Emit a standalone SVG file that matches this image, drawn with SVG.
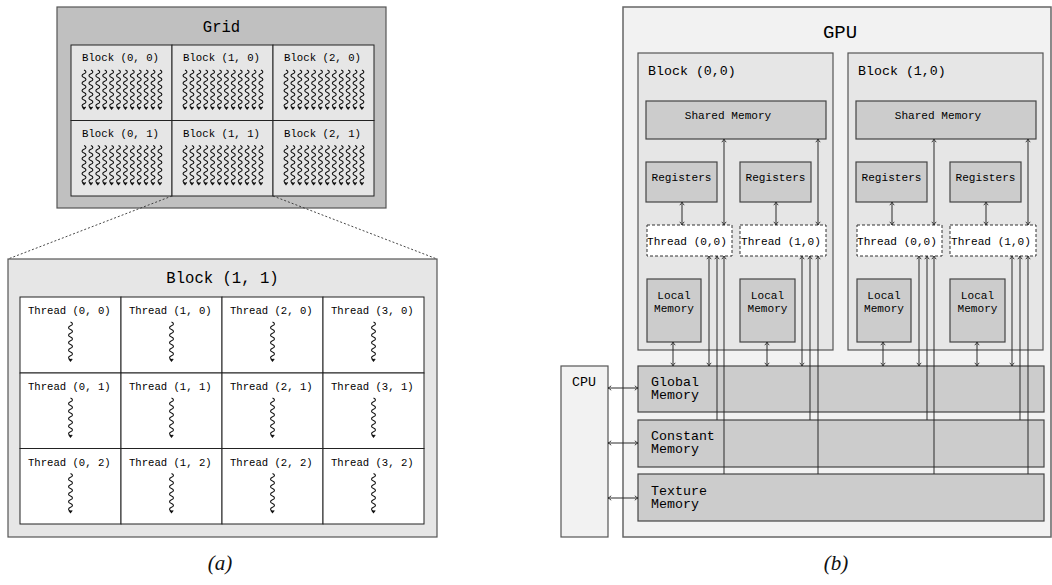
<svg xmlns="http://www.w3.org/2000/svg" xmlns:xlink="http://www.w3.org/1999/xlink" width="1052" height="585" viewBox="0 0 1052 585">
<style>
.m{font-family:"Liberation Mono","DejaVu Sans Mono",monospace;fill:#000}
.cap{font-family:"Liberation Serif","DejaVu Serif",serif;font-style:italic;font-size:21px;fill:#111}
.ln{stroke:#2a2a2a;stroke-width:1;fill:none}
.bi{marker-start:url(#ah);marker-end:url(#ah)}
.one{marker-end:url(#ah)}
.sqp{stroke:#111;stroke-width:1.1;fill:none}
.cell{fill:#e6e6e6;stroke:#222;stroke-width:1}
.tcell{fill:#fff;stroke:#222;stroke-width:1}
.mem{fill:#cccccc;stroke:#444;stroke-width:1.2}
.blk{fill:#e6e6e6;stroke:#555;stroke-width:1.2}
.thr{fill:#fff;stroke:#333;stroke-width:1;stroke-dasharray:3,2}
</style>
<defs>
<marker id="ah" viewBox="-4 -3 5 6" refX="0" refY="0" markerWidth="5" markerHeight="6" markerUnits="userSpaceOnUse" orient="auto-start-reverse">
<path d="M-3.2,-2.2 Q-1.2,-0.4 0,0 Q-1.2,0.4 -3.2,2.2" stroke="#2a2a2a" stroke-width="0.9" fill="none"/>
</marker>
<path id="sq" class="sqp" d="M0,0 c2.6,1 2.6,2.75 0,3.75 c-2.6,1 -2.6,2.75 0,3.75 c2.6,1 2.6,2.75 0,3.75 c-2.6,1 -2.6,2.75 0,3.75 c2.6,1 2.6,2.75 0,3.75 c-2.6,1 -2.6,2.75 0,3.75 c2.6,1 2.6,2.75 0,3.75 c-2.6,1 -2.6,2.75 0,3.75 c2.6,1 2.6,2.75 0,3.75 c-2.6,1 -2.6,2.75 0,3.75 l0,1.5 M-1.7,36.8 L0,39 L1.7,36.8"/>
<g id="sqrow">
<use xlink:href="#sq" x="0"/><use xlink:href="#sq" x="6.9"/><use xlink:href="#sq" x="13.8"/><use xlink:href="#sq" x="20.7"/><use xlink:href="#sq" x="27.6"/><use xlink:href="#sq" x="34.5"/><use xlink:href="#sq" x="41.4"/><use xlink:href="#sq" x="48.3"/><use xlink:href="#sq" x="55.2"/><use xlink:href="#sq" x="62.1"/><use xlink:href="#sq" x="69"/><use xlink:href="#sq" x="75.9"/>
</g>
</defs>
<rect width="1052" height="585" fill="#fff"/>

<!-- (a) Grid -->
<g id="grid">
<rect x="57" y="7" width="329" height="201" fill="#c0c0c0" stroke="#555" stroke-width="1.2"/>
<text class="m" x="221.5" y="32" font-size="15.6" text-anchor="middle">Grid</text>
</g>
<g id="gblock00"><rect class="cell" x="71" y="45" width="101" height="75.5"/><text class="m" x="82" y="61" font-size="10.7">Block (0, 0)</text><use xlink:href="#sqrow" x="84" y="70"/></g>
<g id="gblock10"><rect class="cell" x="172" y="45" width="101" height="75.5"/><text class="m" x="183" y="61" font-size="10.7">Block (1, 0)</text><use xlink:href="#sqrow" x="185" y="70"/></g>
<g id="gblock20"><rect class="cell" x="273" y="45" width="101" height="75.5"/><text class="m" x="284" y="61" font-size="10.7">Block (2, 0)</text><use xlink:href="#sqrow" x="286" y="70"/></g>
<g id="gblock01"><rect class="cell" x="71" y="120.5" width="101" height="75.5"/><text class="m" x="82" y="137" font-size="10.7">Block (0, 1)</text><use xlink:href="#sqrow" x="84" y="145.5"/></g>
<g id="gblock11"><rect class="cell" x="172" y="120.5" width="101" height="75.5"/><text class="m" x="183" y="137" font-size="10.7">Block (1, 1)</text><use xlink:href="#sqrow" x="185" y="145.5"/></g>
<g id="gblock21"><rect class="cell" x="273" y="120.5" width="101" height="75.5"/><text class="m" x="284" y="137" font-size="10.7">Block (2, 1)</text><use xlink:href="#sqrow" x="286" y="145.5"/></g>

<g id="zoomlines">
<line x1="172" y1="196" x2="8" y2="259" stroke="#333" stroke-width="0.9" stroke-dasharray="2,2"/>
<line x1="273" y1="196" x2="437" y2="259" stroke="#333" stroke-width="0.9" stroke-dasharray="2,2"/>
</g>

<!-- Block (1,1) detail -->
<g id="block11">
<rect x="8" y="259" width="429" height="278" fill="#e6e6e6" stroke="#555" stroke-width="1.2"/>
<text class="m" x="222.5" y="283" font-size="15.6" text-anchor="middle">Block (1, 1)</text>
</g>
<g id="t00"><rect class="tcell" x="20" y="297" width="101" height="76"/><text class="m" x="28" y="314" font-size="10.6">Thread (0, 0)</text><use xlink:href="#sq" x="70.5" y="322"/></g>
<g id="t10"><rect class="tcell" x="121" y="297" width="101" height="76"/><text class="m" x="129" y="314" font-size="10.6">Thread (1, 0)</text><use xlink:href="#sq" x="171.5" y="322"/></g>
<g id="t20"><rect class="tcell" x="222" y="297" width="101" height="76"/><text class="m" x="230" y="314" font-size="10.6">Thread (2, 0)</text><use xlink:href="#sq" x="272.5" y="322"/></g>
<g id="t30"><rect class="tcell" x="323" y="297" width="101" height="76"/><text class="m" x="331" y="314" font-size="10.6">Thread (3, 0)</text><use xlink:href="#sq" x="373.5" y="322"/></g>
<g id="t01"><rect class="tcell" x="20" y="373" width="101" height="75.5"/><text class="m" x="28" y="390" font-size="10.6">Thread (0, 1)</text><use xlink:href="#sq" x="70.5" y="398"/></g>
<g id="t11"><rect class="tcell" x="121" y="373" width="101" height="75.5"/><text class="m" x="129" y="390" font-size="10.6">Thread (1, 1)</text><use xlink:href="#sq" x="171.5" y="398"/></g>
<g id="t21"><rect class="tcell" x="222" y="373" width="101" height="75.5"/><text class="m" x="230" y="390" font-size="10.6">Thread (2, 1)</text><use xlink:href="#sq" x="272.5" y="398"/></g>
<g id="t31"><rect class="tcell" x="323" y="373" width="101" height="75.5"/><text class="m" x="331" y="390" font-size="10.6">Thread (3, 1)</text><use xlink:href="#sq" x="373.5" y="398"/></g>
<g id="t02"><rect class="tcell" x="20" y="448.5" width="101" height="75.5"/><text class="m" x="28" y="465.5" font-size="10.6">Thread (0, 2)</text><use xlink:href="#sq" x="70.5" y="473.5"/></g>
<g id="t12"><rect class="tcell" x="121" y="448.5" width="101" height="75.5"/><text class="m" x="129" y="465.5" font-size="10.6">Thread (1, 2)</text><use xlink:href="#sq" x="171.5" y="473.5"/></g>
<g id="t22"><rect class="tcell" x="222" y="448.5" width="101" height="75.5"/><text class="m" x="230" y="465.5" font-size="10.6">Thread (2, 2)</text><use xlink:href="#sq" x="272.5" y="473.5"/></g>
<g id="t32"><rect class="tcell" x="323" y="448.5" width="101" height="75.5"/><text class="m" x="331" y="465.5" font-size="10.6">Thread (3, 2)</text><use xlink:href="#sq" x="373.5" y="473.5"/></g>

<text class="cap" x="220" y="570" text-anchor="middle">(a)</text>

<!-- (b) GPU -->
<g id="gpu">
<rect x="623" y="7" width="428" height="530" fill="#f2f2f2" stroke="#666" stroke-width="1.5"/>
<text class="m" x="840" y="38" font-size="19" text-anchor="middle">GPU</text>
</g>
<g id="cpu">
<rect x="561" y="366" width="47" height="171" fill="#f2f2f2" stroke="#555" stroke-width="1.2"/>
<text class="m" x="572" y="386" font-size="13.3">CPU</text>
</g>

<g id="blockA">
<rect class="blk" x="638" y="53" width="195" height="297"/>
<text class="m" x="648" y="75" font-size="13.3">Block (0,0)</text>
</g>
<g id="sharedA"><rect class="mem" x="646" y="101" width="180" height="38"/><text class="m" x="728" y="119" font-size="11.1" text-anchor="middle">Shared Memory</text></g>
<g id="regA0"><rect class="mem" x="646" y="162" width="71" height="40"/><text class="m" x="681.5" y="181" font-size="11.1" text-anchor="middle">Registers</text></g>
<g id="regA1"><rect class="mem" x="740" y="162" width="71" height="40"/><text class="m" x="775.5" y="181" font-size="11.1" text-anchor="middle">Registers</text></g>
<g id="thrA0"><rect class="thr" x="647" y="225" width="85" height="31"/><text class="m" x="687" y="245" font-size="11.1" text-anchor="middle">Thread (0,0)</text></g>
<g id="thrA1"><rect class="thr" x="740" y="225" width="86" height="31"/><text class="m" x="781" y="245" font-size="11.1" text-anchor="middle">Thread (1,0)</text></g>
<g id="locA0"><rect class="mem" x="647" y="279" width="54" height="63"/><text class="m" x="674" y="299" font-size="11.1" text-anchor="middle">Local</text><text class="m" x="674" y="312" font-size="11.1" text-anchor="middle">Memory</text></g>
<g id="locA1"><rect class="mem" x="740" y="279" width="55" height="63"/><text class="m" x="767.5" y="299" font-size="11.1" text-anchor="middle">Local</text><text class="m" x="767.5" y="312" font-size="11.1" text-anchor="middle">Memory</text></g>

<g id="blockB">
<rect class="blk" x="848" y="53" width="195" height="297"/>
<text class="m" x="858" y="75" font-size="13.3">Block (1,0)</text>
</g>
<g id="sharedB"><rect class="mem" x="856" y="101" width="180" height="38"/><text class="m" x="938" y="119" font-size="11.1" text-anchor="middle">Shared Memory</text></g>
<g id="regB0"><rect class="mem" x="856" y="162" width="71" height="40"/><text class="m" x="891.5" y="181" font-size="11.1" text-anchor="middle">Registers</text></g>
<g id="regB1"><rect class="mem" x="950" y="162" width="71" height="40"/><text class="m" x="985.5" y="181" font-size="11.1" text-anchor="middle">Registers</text></g>
<g id="thrB0"><rect class="thr" x="857" y="225" width="85" height="31"/><text class="m" x="897" y="245" font-size="11.1" text-anchor="middle">Thread (0,0)</text></g>
<g id="thrB1"><rect class="thr" x="950" y="225" width="86" height="31"/><text class="m" x="991" y="245" font-size="11.1" text-anchor="middle">Thread (1,0)</text></g>
<g id="locB0"><rect class="mem" x="857" y="279" width="54" height="63"/><text class="m" x="884" y="299" font-size="11.1" text-anchor="middle">Local</text><text class="m" x="884" y="312" font-size="11.1" text-anchor="middle">Memory</text></g>
<g id="locB1"><rect class="mem" x="950" y="279" width="55" height="63"/><text class="m" x="977.5" y="299" font-size="11.1" text-anchor="middle">Local</text><text class="m" x="977.5" y="312" font-size="11.1" text-anchor="middle">Memory</text></g>

<g id="globalmem"><rect class="mem" x="638" y="366" width="406" height="46"/><text class="m" x="651" y="386" font-size="13.3">Global</text><text class="m" x="651" y="399" font-size="13.3">Memory</text></g>
<g id="constmem"><rect class="mem" x="638" y="420" width="406" height="47"/><text class="m" x="651" y="440" font-size="13.3">Constant</text><text class="m" x="651" y="453" font-size="13.3">Memory</text></g>
<g id="texmem"><rect class="mem" x="638" y="474" width="406" height="47"/><text class="m" x="651" y="495" font-size="13.3">Texture</text><text class="m" x="651" y="508" font-size="13.3">Memory</text></g>

<g id="connectors" class="ln">
<!-- block A -->
<line class="bi" x1="682" y1="202" x2="682" y2="225"/>
<line class="bi" x1="776" y1="202" x2="776" y2="225"/>
<line class="bi" x1="724" y1="139" x2="724" y2="225"/>
<line class="bi" x1="818" y1="139" x2="818" y2="225"/>
<line class="bi" x1="709" y1="256" x2="709" y2="366"/>
<line class="bi" x1="802" y1="256" x2="802" y2="366"/>
<line class="one" x1="717" y1="420" x2="717" y2="256"/>
<line class="one" x1="810" y1="420" x2="810" y2="256"/>
<line class="one" x1="724" y1="474" x2="724" y2="256"/>
<line class="one" x1="818" y1="474" x2="818" y2="256"/>
<line class="bi" x1="673" y1="342" x2="673" y2="366"/>
<line class="bi" x1="767" y1="342" x2="767" y2="366"/>
<!-- block B -->
<line class="bi" x1="892" y1="202" x2="892" y2="225"/>
<line class="bi" x1="986" y1="202" x2="986" y2="225"/>
<line class="bi" x1="934" y1="139" x2="934" y2="225"/>
<line class="bi" x1="1028" y1="139" x2="1028" y2="225"/>
<line class="bi" x1="919" y1="256" x2="919" y2="366"/>
<line class="bi" x1="1012" y1="256" x2="1012" y2="366"/>
<line class="one" x1="927" y1="420" x2="927" y2="256"/>
<line class="one" x1="1020" y1="420" x2="1020" y2="256"/>
<line class="one" x1="934" y1="474" x2="934" y2="256"/>
<line class="one" x1="1028" y1="474" x2="1028" y2="256"/>
<line class="bi" x1="883" y1="342" x2="883" y2="366"/>
<line class="bi" x1="977" y1="342" x2="977" y2="366"/>
<!-- CPU -->
<line class="bi" x1="608" y1="388" x2="638" y2="388"/>
<line class="bi" x1="608" y1="443" x2="638" y2="443"/>
<line class="bi" x1="608" y1="498" x2="638" y2="498"/>
</g>

<text class="cap" x="836" y="570" text-anchor="middle">(b)</text>
</svg>
